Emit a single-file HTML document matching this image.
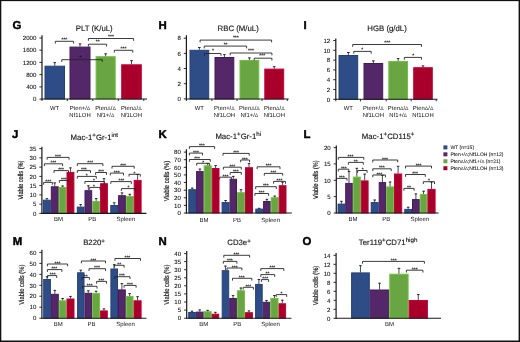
<!DOCTYPE html>
<html><head><meta charset="utf-8"><style>
html,body{margin:0;padding:0;background:#fff;}
body{width:520px;height:342px;overflow:hidden;}
svg{display:block;font-family:"Liberation Sans",sans-serif;will-change:transform;text-rendering:geometricPrecision;}
</style></head><body>
<svg width="520" height="342" viewBox="0 0 520 342">
<rect width="520" height="342" fill="#fff"/>
<text x="12.6" y="28.9" font-size="11.4" text-anchor="start" font-weight="bold" fill="#000" stroke="#000" stroke-width="0.45">G</text>
<text x="94.2" y="30.6" font-size="7.8" text-anchor="middle" font-weight="normal" fill="#111" stroke="#111" stroke-width="0.12">PLT (K/uL)</text>
<line x1="42" y1="35.3" x2="42" y2="99.5" stroke="#1a1a1a" stroke-width="1.2"/>
<line x1="39.4" y1="99.1" x2="42" y2="99.1" stroke="#1a1a1a" stroke-width="0.9"/>
<text x="36.4" y="101.3" font-size="6.1" text-anchor="end" font-weight="normal" fill="#111" stroke="#111" stroke-width="0.08">0</text>
<line x1="39.4" y1="86.9" x2="42" y2="86.9" stroke="#1a1a1a" stroke-width="0.9"/>
<text x="36.4" y="89.1" font-size="6.1" text-anchor="end" font-weight="normal" fill="#111" stroke="#111" stroke-width="0.08">400</text>
<line x1="39.4" y1="74.6" x2="42" y2="74.6" stroke="#1a1a1a" stroke-width="0.9"/>
<text x="36.4" y="76.8" font-size="6.1" text-anchor="end" font-weight="normal" fill="#111" stroke="#111" stroke-width="0.08">800</text>
<line x1="39.4" y1="62.4" x2="42" y2="62.4" stroke="#1a1a1a" stroke-width="0.9"/>
<text x="36.4" y="64.6" font-size="6.1" text-anchor="end" font-weight="normal" fill="#111" stroke="#111" stroke-width="0.08">1200</text>
<line x1="39.4" y1="50.2" x2="42" y2="50.2" stroke="#1a1a1a" stroke-width="0.9"/>
<text x="36.4" y="52.4" font-size="6.1" text-anchor="end" font-weight="normal" fill="#111" stroke="#111" stroke-width="0.08">1600</text>
<line x1="39.4" y1="38" x2="42" y2="38" stroke="#1a1a1a" stroke-width="0.9"/>
<text x="36.4" y="40.2" font-size="6.1" text-anchor="end" font-weight="normal" fill="#111" stroke="#111" stroke-width="0.08">2000</text>
<rect x="45" y="66.2" width="19.5" height="32.8" fill="#2e4d86" stroke="#24417a" stroke-width="1"/>
<line x1="54.75" y1="62.3" x2="54.75" y2="65.7" stroke="#1a1a1a" stroke-width="0.8"/>
<line x1="53.45" y1="62.6" x2="56.05" y2="62.6" stroke="#1a1a1a" stroke-width="0.9"/>
<rect x="70" y="47.1" width="20" height="51.9" fill="#542868" stroke="#46195c" stroke-width="1"/>
<line x1="80" y1="43.6" x2="80" y2="46.6" stroke="#1a1a1a" stroke-width="0.8"/>
<line x1="78.7" y1="43.9" x2="81.3" y2="43.9" stroke="#1a1a1a" stroke-width="0.9"/>
<rect x="96.1" y="56.7" width="19.1" height="42.3" fill="#6aa543" stroke="#6fc23f" stroke-width="1"/>
<line x1="105.65" y1="53.5" x2="105.65" y2="56.2" stroke="#1a1a1a" stroke-width="0.8"/>
<line x1="104.35" y1="53.8" x2="106.95" y2="53.8" stroke="#1a1a1a" stroke-width="0.9"/>
<rect x="121.7" y="64.8" width="19.6" height="34.2" fill="#a8002b" stroke="#c6003a" stroke-width="1"/>
<line x1="131.5" y1="60.3" x2="131.5" y2="64.3" stroke="#1a1a1a" stroke-width="0.8"/>
<line x1="130.2" y1="60.6" x2="132.8" y2="60.6" stroke="#1a1a1a" stroke-width="0.9"/>
<line x1="41.5" y1="99" x2="147" y2="99" stroke="#1a1a1a" stroke-width="1.1"/>
<line x1="42" y1="99" x2="42" y2="101" stroke="#1a1a1a" stroke-width="0.9"/>
<line x1="67.3" y1="99" x2="67.3" y2="101" stroke="#1a1a1a" stroke-width="0.9"/>
<line x1="92.8" y1="99" x2="92.8" y2="101" stroke="#1a1a1a" stroke-width="0.9"/>
<line x1="118.3" y1="99" x2="118.3" y2="101" stroke="#1a1a1a" stroke-width="0.9"/>
<line x1="143.8" y1="99" x2="143.8" y2="101" stroke="#1a1a1a" stroke-width="0.9"/>
<path d="M55.3 43.6V41.3H73.6V43.6" fill="none" stroke="#262626" stroke-width="0.9"/>
<text x="64.4" y="41.2" font-size="5" text-anchor="middle" font-weight="normal" fill="#111" stroke="#111" stroke-width="0.1">***</text>
<path d="M61.8 62V59.7H102.3V62" fill="none" stroke="#262626" stroke-width="0.9"/>
<text x="80.5" y="58.7" font-size="5" text-anchor="middle" font-weight="normal" fill="#111" stroke="#111" stroke-width="0.1">*</text>
<path d="M88.4 46.5V44.2H106.6V46.5" fill="none" stroke="#262626" stroke-width="0.9"/>
<text x="97.7" y="43.3" font-size="5" text-anchor="middle" font-weight="normal" fill="#111" stroke="#111" stroke-width="0.1">**</text>
<path d="M88.4 40.8V38.5H133.6V40.8" fill="none" stroke="#262626" stroke-width="0.9"/>
<text x="111" y="38" font-size="5" text-anchor="middle" font-weight="normal" fill="#111" stroke="#111" stroke-width="0.1">***</text>
<path d="M114.3 52.6V50.3H132.8V52.6" fill="none" stroke="#262626" stroke-width="0.9"/>
<text x="123.5" y="50" font-size="5" text-anchor="middle" font-weight="normal" fill="#111" stroke="#111" stroke-width="0.1">***</text>
<text x="54.6" y="109.9" font-size="5.9" text-anchor="middle" font-weight="normal" fill="#111">WT</text>
<text x="80" y="109.9" font-size="5.9" text-anchor="middle" font-weight="normal" fill="#111">Pten+/<tspan font-size="5.2" fill="#444">&#916;</tspan></text>
<text x="80" y="116.8" font-size="5.9" text-anchor="middle" font-weight="normal" fill="#111">Nf1LOH</text>
<text x="105.5" y="109.9" font-size="5.9" text-anchor="middle" font-weight="normal" fill="#111">Pten<tspan font-size="5.2" fill="#444">&#916;</tspan>/<tspan font-size="5.2" fill="#444">&#916;</tspan></text>
<text x="105.5" y="116.8" font-size="5.9" text-anchor="middle" font-weight="normal" fill="#111">Nf1+/<tspan font-size="5.2" fill="#444">&#916;</tspan></text>
<text x="131.3" y="109.9" font-size="5.9" text-anchor="middle" font-weight="normal" fill="#111">Pten<tspan font-size="5.2" fill="#444">&#916;</tspan>/<tspan font-size="5.2" fill="#444">&#916;</tspan></text>
<text x="131.3" y="116.8" font-size="5.9" text-anchor="middle" font-weight="normal" fill="#111">Nf1LOH</text>
<text x="158.4" y="28.9" font-size="11.4" text-anchor="start" font-weight="bold" fill="#000" stroke="#000" stroke-width="0.45">H</text>
<text x="238.2" y="30.6" font-size="7.8" text-anchor="middle" font-weight="normal" fill="#111" stroke="#111" stroke-width="0.12">RBC (M/uL)</text>
<line x1="186.4" y1="35.3" x2="186.4" y2="99.5" stroke="#1a1a1a" stroke-width="1.2"/>
<line x1="183.8" y1="98.9" x2="186.4" y2="98.9" stroke="#1a1a1a" stroke-width="0.9"/>
<text x="180.8" y="101.1" font-size="6.1" text-anchor="end" font-weight="normal" fill="#111" stroke="#111" stroke-width="0.08">0</text>
<line x1="183.8" y1="83.7" x2="186.4" y2="83.7" stroke="#1a1a1a" stroke-width="0.9"/>
<text x="180.8" y="85.9" font-size="6.1" text-anchor="end" font-weight="normal" fill="#111" stroke="#111" stroke-width="0.08">2</text>
<line x1="183.8" y1="68.5" x2="186.4" y2="68.5" stroke="#1a1a1a" stroke-width="0.9"/>
<text x="180.8" y="70.7" font-size="6.1" text-anchor="end" font-weight="normal" fill="#111" stroke="#111" stroke-width="0.08">4</text>
<line x1="183.8" y1="53.4" x2="186.4" y2="53.4" stroke="#1a1a1a" stroke-width="0.9"/>
<text x="180.8" y="55.6" font-size="6.1" text-anchor="end" font-weight="normal" fill="#111" stroke="#111" stroke-width="0.08">6</text>
<line x1="183.8" y1="38.2" x2="186.4" y2="38.2" stroke="#1a1a1a" stroke-width="0.9"/>
<text x="180.8" y="40.4" font-size="6.1" text-anchor="end" font-weight="normal" fill="#111" stroke="#111" stroke-width="0.08">8</text>
<rect x="190" y="50.3" width="18.7" height="48.7" fill="#2e4d86" stroke="#24417a" stroke-width="1"/>
<line x1="199.35" y1="47.2" x2="199.35" y2="49.8" stroke="#1a1a1a" stroke-width="0.8"/>
<line x1="198.05" y1="47.5" x2="200.65" y2="47.5" stroke="#1a1a1a" stroke-width="0.9"/>
<rect x="215" y="57.5" width="18.8" height="41.5" fill="#542868" stroke="#46195c" stroke-width="1"/>
<line x1="224.4" y1="54.3" x2="224.4" y2="57" stroke="#1a1a1a" stroke-width="0.8"/>
<line x1="223.1" y1="54.6" x2="225.7" y2="54.6" stroke="#1a1a1a" stroke-width="0.9"/>
<rect x="240" y="60.5" width="18.8" height="38.5" fill="#6aa543" stroke="#6fc23f" stroke-width="1"/>
<line x1="249.4" y1="57.6" x2="249.4" y2="60" stroke="#1a1a1a" stroke-width="0.8"/>
<line x1="248.1" y1="57.9" x2="250.7" y2="57.9" stroke="#1a1a1a" stroke-width="0.9"/>
<rect x="264.8" y="69.1" width="18.9" height="29.9" fill="#a8002b" stroke="#c6003a" stroke-width="1"/>
<line x1="274.25" y1="66.4" x2="274.25" y2="68.6" stroke="#1a1a1a" stroke-width="0.8"/>
<line x1="272.95" y1="66.7" x2="275.55" y2="66.7" stroke="#1a1a1a" stroke-width="0.9"/>
<line x1="185.9" y1="99" x2="288.7" y2="99" stroke="#1a1a1a" stroke-width="1.1"/>
<line x1="186.4" y1="99" x2="186.4" y2="101" stroke="#1a1a1a" stroke-width="0.9"/>
<line x1="211.9" y1="99" x2="211.9" y2="101" stroke="#1a1a1a" stroke-width="0.9"/>
<line x1="237" y1="99" x2="237" y2="101" stroke="#1a1a1a" stroke-width="0.9"/>
<line x1="262" y1="99" x2="262" y2="101" stroke="#1a1a1a" stroke-width="0.9"/>
<line x1="287.3" y1="99" x2="287.3" y2="101" stroke="#1a1a1a" stroke-width="0.9"/>
<path d="M200.1 42.4V40.1H271.6V42.4" fill="none" stroke="#262626" stroke-width="0.9"/>
<text x="235.8" y="39" font-size="5" text-anchor="middle" font-weight="normal" fill="#111" stroke="#111" stroke-width="0.1">***</text>
<path d="M204.2 48.4V46.1H246.6V48.4" fill="none" stroke="#262626" stroke-width="0.9"/>
<text x="225.6" y="45.6" font-size="5" text-anchor="middle" font-weight="normal" fill="#111" stroke="#111" stroke-width="0.1">**</text>
<path d="M204.5 55.8V53.5H221V55.8" fill="none" stroke="#262626" stroke-width="0.9"/>
<text x="213" y="52.4" font-size="5" text-anchor="middle" font-weight="normal" fill="#111" stroke="#111" stroke-width="0.1">*</text>
<path d="M230.2 55.3V53H271.9V55.3" fill="none" stroke="#262626" stroke-width="0.9"/>
<text x="251" y="52.3" font-size="5" text-anchor="middle" font-weight="normal" fill="#111" stroke="#111" stroke-width="0.1">***</text>
<path d="M254.2 60.5V58.2H271.9V60.5" fill="none" stroke="#262626" stroke-width="0.9"/>
<text x="262.2" y="57" font-size="5" text-anchor="middle" font-weight="normal" fill="#111" stroke="#111" stroke-width="0.1">***</text>
<text x="199.4" y="109.9" font-size="5.9" text-anchor="middle" font-weight="normal" fill="#111">WT</text>
<text x="224.4" y="109.9" font-size="5.9" text-anchor="middle" font-weight="normal" fill="#111">Pten+/<tspan font-size="5.2" fill="#444">&#916;</tspan></text>
<text x="224.4" y="116.8" font-size="5.9" text-anchor="middle" font-weight="normal" fill="#111">Nf1LOH</text>
<text x="249.4" y="109.9" font-size="5.9" text-anchor="middle" font-weight="normal" fill="#111">Pten<tspan font-size="5.2" fill="#444">&#916;</tspan>/<tspan font-size="5.2" fill="#444">&#916;</tspan></text>
<text x="249.4" y="116.8" font-size="5.9" text-anchor="middle" font-weight="normal" fill="#111">Nf1+/<tspan font-size="5.2" fill="#444">&#916;</tspan></text>
<text x="274.3" y="109.9" font-size="5.9" text-anchor="middle" font-weight="normal" fill="#111">Pten<tspan font-size="5.2" fill="#444">&#916;</tspan>/<tspan font-size="5.2" fill="#444">&#916;</tspan></text>
<text x="274.3" y="116.8" font-size="5.9" text-anchor="middle" font-weight="normal" fill="#111">Nf1LOH</text>
<text x="303.6" y="28.9" font-size="11.4" text-anchor="start" font-weight="bold" fill="#000" stroke="#000" stroke-width="0.45">I</text>
<text x="387.05" y="30.6" font-size="7.8" text-anchor="middle" font-weight="normal" fill="#111" stroke="#111" stroke-width="0.12">HGB (g/dL)</text>
<line x1="335.8" y1="38.5" x2="335.8" y2="99.8" stroke="#1a1a1a" stroke-width="1.2"/>
<line x1="333.2" y1="99.3" x2="335.8" y2="99.3" stroke="#1a1a1a" stroke-width="0.9"/>
<text x="330.2" y="101.5" font-size="6.1" text-anchor="end" font-weight="normal" fill="#111" stroke="#111" stroke-width="0.08">0</text>
<line x1="333.2" y1="89.5" x2="335.8" y2="89.5" stroke="#1a1a1a" stroke-width="0.9"/>
<text x="330.2" y="91.7" font-size="6.1" text-anchor="end" font-weight="normal" fill="#111" stroke="#111" stroke-width="0.08">2</text>
<line x1="333.2" y1="79.7" x2="335.8" y2="79.7" stroke="#1a1a1a" stroke-width="0.9"/>
<text x="330.2" y="81.9" font-size="6.1" text-anchor="end" font-weight="normal" fill="#111" stroke="#111" stroke-width="0.08">4</text>
<line x1="333.2" y1="69.9" x2="335.8" y2="69.9" stroke="#1a1a1a" stroke-width="0.9"/>
<text x="330.2" y="72.1" font-size="6.1" text-anchor="end" font-weight="normal" fill="#111" stroke="#111" stroke-width="0.08">6</text>
<line x1="333.2" y1="60.1" x2="335.8" y2="60.1" stroke="#1a1a1a" stroke-width="0.9"/>
<text x="330.2" y="62.3" font-size="6.1" text-anchor="end" font-weight="normal" fill="#111" stroke="#111" stroke-width="0.08">8</text>
<line x1="333.2" y1="50.3" x2="335.8" y2="50.3" stroke="#1a1a1a" stroke-width="0.9"/>
<text x="330.2" y="52.5" font-size="6.1" text-anchor="end" font-weight="normal" fill="#111" stroke="#111" stroke-width="0.08">10</text>
<line x1="333.2" y1="40.5" x2="335.8" y2="40.5" stroke="#1a1a1a" stroke-width="0.9"/>
<text x="330.2" y="42.7" font-size="6.1" text-anchor="end" font-weight="normal" fill="#111" stroke="#111" stroke-width="0.08">12</text>
<rect x="339" y="55.5" width="18.7" height="43.8" fill="#2e4d86" stroke="#24417a" stroke-width="1"/>
<line x1="348.35" y1="52.2" x2="348.35" y2="55" stroke="#1a1a1a" stroke-width="0.8"/>
<line x1="347.05" y1="52.5" x2="349.65" y2="52.5" stroke="#1a1a1a" stroke-width="0.9"/>
<rect x="364" y="63.5" width="18.7" height="35.8" fill="#542868" stroke="#46195c" stroke-width="1"/>
<line x1="373.35" y1="60.6" x2="373.35" y2="63" stroke="#1a1a1a" stroke-width="0.8"/>
<line x1="372.05" y1="60.9" x2="374.65" y2="60.9" stroke="#1a1a1a" stroke-width="0.9"/>
<rect x="388.8" y="61.5" width="18.7" height="37.8" fill="#6aa543" stroke="#6fc23f" stroke-width="1"/>
<line x1="398.15" y1="58.3" x2="398.15" y2="61" stroke="#1a1a1a" stroke-width="0.8"/>
<line x1="396.85" y1="58.6" x2="399.45" y2="58.6" stroke="#1a1a1a" stroke-width="0.9"/>
<rect x="413.7" y="67.7" width="18.6" height="31.6" fill="#a8002b" stroke="#c6003a" stroke-width="1"/>
<line x1="423" y1="65.6" x2="423" y2="67.2" stroke="#1a1a1a" stroke-width="0.8"/>
<line x1="421.7" y1="65.9" x2="424.3" y2="65.9" stroke="#1a1a1a" stroke-width="0.9"/>
<line x1="335.3" y1="99.3" x2="437.5" y2="99.3" stroke="#1a1a1a" stroke-width="1.1"/>
<line x1="335.8" y1="99.3" x2="335.8" y2="101.3" stroke="#1a1a1a" stroke-width="0.9"/>
<line x1="360.5" y1="99.3" x2="360.5" y2="101.3" stroke="#1a1a1a" stroke-width="0.9"/>
<line x1="386.2" y1="99.3" x2="386.2" y2="101.3" stroke="#1a1a1a" stroke-width="0.9"/>
<line x1="411.2" y1="99.3" x2="411.2" y2="101.3" stroke="#1a1a1a" stroke-width="0.9"/>
<line x1="436.2" y1="99.3" x2="436.2" y2="101.3" stroke="#1a1a1a" stroke-width="0.9"/>
<path d="M352.7 46.8V44.5H421.5V46.8" fill="none" stroke="#262626" stroke-width="0.9"/>
<text x="387.2" y="44" font-size="5" text-anchor="middle" font-weight="normal" fill="#111" stroke="#111" stroke-width="0.1">***</text>
<path d="M353.8 53.7V51.4H371.2V53.7" fill="none" stroke="#262626" stroke-width="0.9"/>
<text x="362.3" y="51" font-size="5" text-anchor="middle" font-weight="normal" fill="#111" stroke="#111" stroke-width="0.1">*</text>
<path d="M404.3 59.7V57.4H421.5V59.7" fill="none" stroke="#262626" stroke-width="0.9"/>
<text x="413.2" y="56.8" font-size="5" text-anchor="middle" font-weight="normal" fill="#111" stroke="#111" stroke-width="0.1">*</text>
<text x="348.4" y="109.9" font-size="5.9" text-anchor="middle" font-weight="normal" fill="#111">WT</text>
<text x="373.3" y="109.9" font-size="5.9" text-anchor="middle" font-weight="normal" fill="#111">Pten+/<tspan font-size="5.2" fill="#444">&#916;</tspan></text>
<text x="373.3" y="116.8" font-size="5.9" text-anchor="middle" font-weight="normal" fill="#111">Nf1LOH</text>
<text x="398.2" y="109.9" font-size="5.9" text-anchor="middle" font-weight="normal" fill="#111">Pten<tspan font-size="5.2" fill="#444">&#916;</tspan>/<tspan font-size="5.2" fill="#444">&#916;</tspan></text>
<text x="398.2" y="116.8" font-size="5.9" text-anchor="middle" font-weight="normal" fill="#111">Nf1+/<tspan font-size="5.2" fill="#444">&#916;</tspan></text>
<text x="423" y="109.9" font-size="5.9" text-anchor="middle" font-weight="normal" fill="#111">Pten<tspan font-size="5.2" fill="#444">&#916;</tspan>/<tspan font-size="5.2" fill="#444">&#916;</tspan></text>
<text x="423" y="116.8" font-size="5.9" text-anchor="middle" font-weight="normal" fill="#111">Nf1LOH</text>
<text x="12" y="137.9" font-size="11.4" text-anchor="start" font-weight="bold" fill="#000" stroke="#000" stroke-width="0.45">J</text>
<text x="94.35" y="139.6" font-size="7.8" text-anchor="middle" font-weight="normal" fill="#111" stroke="#111" stroke-width="0.12">Mac-1<tspan font-size="6.2" dy="-2.9">+</tspan><tspan dy="2.9">Gr-1</tspan><tspan font-size="6.2" dy="-2.9">int</tspan></text>
<text x="0" y="0" font-size="7.2" text-anchor="middle" fill="#111" stroke="#111" stroke-width="0.15" transform="translate(23.45 180.05) rotate(-90) scale(0.79 1)">Viable cells (%)</text>
<line x1="41.9" y1="146.8" x2="41.9" y2="213.9" stroke="#1a1a1a" stroke-width="1.2"/>
<line x1="39.3" y1="213.4" x2="41.9" y2="213.4" stroke="#1a1a1a" stroke-width="0.9"/>
<text x="36.3" y="215.6" font-size="6.1" text-anchor="end" font-weight="normal" fill="#111" stroke="#111" stroke-width="0.08">0</text>
<line x1="39.3" y1="204.1" x2="41.9" y2="204.1" stroke="#1a1a1a" stroke-width="0.9"/>
<text x="36.3" y="206.3" font-size="6.1" text-anchor="end" font-weight="normal" fill="#111" stroke="#111" stroke-width="0.08">5</text>
<line x1="39.3" y1="194.9" x2="41.9" y2="194.9" stroke="#1a1a1a" stroke-width="0.9"/>
<text x="36.3" y="197.1" font-size="6.1" text-anchor="end" font-weight="normal" fill="#111" stroke="#111" stroke-width="0.08">10</text>
<line x1="39.3" y1="185.6" x2="41.9" y2="185.6" stroke="#1a1a1a" stroke-width="0.9"/>
<text x="36.3" y="187.8" font-size="6.1" text-anchor="end" font-weight="normal" fill="#111" stroke="#111" stroke-width="0.08">15</text>
<line x1="39.3" y1="176.4" x2="41.9" y2="176.4" stroke="#1a1a1a" stroke-width="0.9"/>
<text x="36.3" y="178.6" font-size="6.1" text-anchor="end" font-weight="normal" fill="#111" stroke="#111" stroke-width="0.08">20</text>
<line x1="39.3" y1="167.1" x2="41.9" y2="167.1" stroke="#1a1a1a" stroke-width="0.9"/>
<text x="36.3" y="169.3" font-size="6.1" text-anchor="end" font-weight="normal" fill="#111" stroke="#111" stroke-width="0.08">25</text>
<line x1="39.3" y1="157.9" x2="41.9" y2="157.9" stroke="#1a1a1a" stroke-width="0.9"/>
<text x="36.3" y="160.1" font-size="6.1" text-anchor="end" font-weight="normal" fill="#111" stroke="#111" stroke-width="0.08">30</text>
<line x1="39.3" y1="148.6" x2="41.9" y2="148.6" stroke="#1a1a1a" stroke-width="0.9"/>
<text x="36.3" y="150.8" font-size="6.1" text-anchor="end" font-weight="normal" fill="#111" stroke="#111" stroke-width="0.08">35</text>
<rect x="43.4" y="200.2" width="6.9" height="13.2" fill="#2e4d86" stroke="#24417a" stroke-width="1"/>
<line x1="46.85" y1="198.4" x2="46.85" y2="199.7" stroke="#1a1a1a" stroke-width="0.8"/>
<line x1="45.55" y1="198.7" x2="48.15" y2="198.7" stroke="#1a1a1a" stroke-width="0.9"/>
<rect x="51.3" y="186.8" width="6.9" height="26.6" fill="#542868" stroke="#46195c" stroke-width="1"/>
<line x1="54.75" y1="182.6" x2="54.75" y2="186.3" stroke="#1a1a1a" stroke-width="0.8"/>
<line x1="53.45" y1="182.9" x2="56.05" y2="182.9" stroke="#1a1a1a" stroke-width="0.9"/>
<rect x="59.2" y="187.5" width="6.8" height="25.9" fill="#6aa543" stroke="#6fc23f" stroke-width="1"/>
<line x1="62.6" y1="185.7" x2="62.6" y2="187" stroke="#1a1a1a" stroke-width="0.8"/>
<line x1="61.3" y1="186" x2="63.9" y2="186" stroke="#1a1a1a" stroke-width="0.9"/>
<rect x="67" y="172.4" width="6.9" height="41" fill="#a8002b" stroke="#c6003a" stroke-width="1"/>
<line x1="70.45" y1="167.6" x2="70.45" y2="171.9" stroke="#1a1a1a" stroke-width="0.8"/>
<line x1="69.15" y1="167.9" x2="71.75" y2="167.9" stroke="#1a1a1a" stroke-width="0.9"/>
<rect x="77.3" y="207.1" width="6.7" height="6.3" fill="#2e4d86" stroke="#24417a" stroke-width="1"/>
<line x1="80.65" y1="204.3" x2="80.65" y2="206.6" stroke="#1a1a1a" stroke-width="0.8"/>
<line x1="79.35" y1="204.6" x2="81.95" y2="204.6" stroke="#1a1a1a" stroke-width="0.9"/>
<rect x="85" y="190.7" width="6.7" height="22.7" fill="#542868" stroke="#46195c" stroke-width="1"/>
<line x1="88.35" y1="185.5" x2="88.35" y2="190.2" stroke="#1a1a1a" stroke-width="0.8"/>
<line x1="87.05" y1="185.8" x2="89.65" y2="185.8" stroke="#1a1a1a" stroke-width="0.9"/>
<rect x="92.7" y="201.5" width="6.9" height="11.9" fill="#6aa543" stroke="#6fc23f" stroke-width="1"/>
<line x1="96.15" y1="198.3" x2="96.15" y2="201" stroke="#1a1a1a" stroke-width="0.8"/>
<line x1="94.85" y1="198.6" x2="97.45" y2="198.6" stroke="#1a1a1a" stroke-width="0.9"/>
<rect x="100.6" y="183.7" width="6.8" height="29.7" fill="#a8002b" stroke="#c6003a" stroke-width="1"/>
<line x1="104" y1="178.4" x2="104" y2="183.2" stroke="#1a1a1a" stroke-width="0.8"/>
<line x1="102.7" y1="178.7" x2="105.3" y2="178.7" stroke="#1a1a1a" stroke-width="0.9"/>
<rect x="110.8" y="205.5" width="6.8" height="7.9" fill="#2e4d86" stroke="#24417a" stroke-width="1"/>
<line x1="114.2" y1="202.5" x2="114.2" y2="205" stroke="#1a1a1a" stroke-width="0.8"/>
<line x1="112.9" y1="202.8" x2="115.5" y2="202.8" stroke="#1a1a1a" stroke-width="0.9"/>
<rect x="118.6" y="195.7" width="6.8" height="17.7" fill="#542868" stroke="#46195c" stroke-width="1"/>
<line x1="122" y1="192.6" x2="122" y2="195.2" stroke="#1a1a1a" stroke-width="0.8"/>
<line x1="120.7" y1="192.9" x2="123.3" y2="192.9" stroke="#1a1a1a" stroke-width="0.9"/>
<rect x="126.4" y="196.5" width="6.8" height="16.9" fill="#6aa543" stroke="#6fc23f" stroke-width="1"/>
<line x1="129.8" y1="194" x2="129.8" y2="196" stroke="#1a1a1a" stroke-width="0.8"/>
<line x1="128.5" y1="194.3" x2="131.1" y2="194.3" stroke="#1a1a1a" stroke-width="0.9"/>
<rect x="134.2" y="180.4" width="6.9" height="33" fill="#a8002b" stroke="#c6003a" stroke-width="1"/>
<line x1="137.65" y1="174.1" x2="137.65" y2="179.9" stroke="#1a1a1a" stroke-width="0.8"/>
<line x1="136.35" y1="174.4" x2="138.95" y2="174.4" stroke="#1a1a1a" stroke-width="0.9"/>
<line x1="41.4" y1="213.4" x2="146.4" y2="213.4" stroke="#1a1a1a" stroke-width="1.1"/>
<path d="M47.1 159.7V157.4H69V159.7" fill="none" stroke="#262626" stroke-width="0.9"/>
<text x="58" y="157.95" font-size="5" text-anchor="middle" font-weight="normal" fill="#111" stroke="#111" stroke-width="0.1">***</text>
<path d="M44.4 166.1V163.8H62.6V166.1" fill="none" stroke="#262626" stroke-width="0.9"/>
<text x="53.4" y="164.35" font-size="5" text-anchor="middle" font-weight="normal" fill="#111" stroke="#111" stroke-width="0.1">***</text>
<path d="M54 172.9V170.6H68.5V172.9" fill="none" stroke="#262626" stroke-width="0.9"/>
<text x="61.1" y="171.15" font-size="5" text-anchor="middle" font-weight="normal" fill="#111" stroke="#111" stroke-width="0.1">***</text>
<path d="M59.4 182.8V180.5H68.3V182.8" fill="none" stroke="#262626" stroke-width="0.9"/>
<text x="63.9" y="181.05" font-size="5" text-anchor="middle" font-weight="normal" fill="#111" stroke="#111" stroke-width="0.1">***</text>
<path d="M43.6 184.7V182.4H52.4V184.7" fill="none" stroke="#262626" stroke-width="0.9"/>
<text x="48.2" y="182.95" font-size="5" text-anchor="middle" font-weight="normal" fill="#111" stroke="#111" stroke-width="0.1">***</text>
<path d="M77.3 166V163.7H102.9V166" fill="none" stroke="#262626" stroke-width="0.9"/>
<text x="90.2" y="164.25" font-size="5" text-anchor="middle" font-weight="normal" fill="#111" stroke="#111" stroke-width="0.1">***</text>
<path d="M77.3 172.9V170.6H90.5V172.9" fill="none" stroke="#262626" stroke-width="0.9"/>
<text x="83.9" y="171.15" font-size="5" text-anchor="middle" font-weight="normal" fill="#111" stroke="#111" stroke-width="0.1">***</text>
<path d="M95.6 174.8V172.5H106.5V174.8" fill="none" stroke="#262626" stroke-width="0.9"/>
<text x="101.1" y="173.05" font-size="5" text-anchor="middle" font-weight="normal" fill="#111" stroke="#111" stroke-width="0.1">***</text>
<path d="M77.3 178.7V176.4H96.3V178.7" fill="none" stroke="#262626" stroke-width="0.9"/>
<text x="86.8" y="176.95" font-size="5" text-anchor="middle" font-weight="normal" fill="#111" stroke="#111" stroke-width="0.1">*</text>
<path d="M84.9 183.8V181.5H104.4V183.8" fill="none" stroke="#262626" stroke-width="0.9"/>
<text x="94.1" y="182.05" font-size="5" text-anchor="middle" font-weight="normal" fill="#111" stroke="#111" stroke-width="0.1">*</text>
<path d="M89.7 189.7V187.4H100V189.7" fill="none" stroke="#262626" stroke-width="0.9"/>
<text x="94.1" y="187.95" font-size="5" text-anchor="middle" font-weight="normal" fill="#111" stroke="#111" stroke-width="0.1">*</text>
<path d="M112 168.6V166.3H134.2V168.6" fill="none" stroke="#262626" stroke-width="0.9"/>
<text x="123.1" y="166.85" font-size="5" text-anchor="middle" font-weight="normal" fill="#111" stroke="#111" stroke-width="0.1">***</text>
<path d="M110.3 175.4V173.1H123.5V175.4" fill="none" stroke="#262626" stroke-width="0.9"/>
<text x="116.7" y="173.65" font-size="5" text-anchor="middle" font-weight="normal" fill="#111" stroke="#111" stroke-width="0.1">***</text>
<path d="M129 176.6V174.3H140.3V176.6" fill="none" stroke="#262626" stroke-width="0.9"/>
<text x="134.4" y="174.85" font-size="5" text-anchor="middle" font-weight="normal" fill="#111" stroke="#111" stroke-width="0.1">*</text>
<path d="M110.8 183.9V181.6H131.3V183.9" fill="none" stroke="#262626" stroke-width="0.9"/>
<text x="121.4" y="182.15" font-size="5" text-anchor="middle" font-weight="normal" fill="#111" stroke="#111" stroke-width="0.1">***</text>
<path d="M121.4 190.9V188.6H135.4V190.9" fill="none" stroke="#262626" stroke-width="0.9"/>
<text x="128.4" y="189.15" font-size="5" text-anchor="middle" font-weight="normal" fill="#111" stroke="#111" stroke-width="0.1">*</text>
<text x="58.6" y="221.3" font-size="6" text-anchor="middle" font-weight="normal" fill="#111">BM</text>
<text x="92.3" y="221.3" font-size="6" text-anchor="middle" font-weight="normal" fill="#111">PB</text>
<text x="125.8" y="221.3" font-size="6" text-anchor="middle" font-weight="normal" fill="#111">Spleen</text>
<text x="158.6" y="138" font-size="11.4" text-anchor="start" font-weight="bold" fill="#000" stroke="#000" stroke-width="0.45">K</text>
<text x="238.25" y="139.3" font-size="7.8" text-anchor="middle" font-weight="normal" fill="#111" stroke="#111" stroke-width="0.12">Mac-1<tspan font-size="6.2" dy="-2.9">+</tspan><tspan dy="2.9">Gr-1</tspan><tspan font-size="6.2" dy="-2.9">hi</tspan></text>
<text x="0" y="0" font-size="7.2" text-anchor="middle" fill="#111" stroke="#111" stroke-width="0.15" transform="translate(169.25 181) rotate(-90) scale(0.82 1)">Viable cells (%)</text>
<line x1="186.4" y1="149.3" x2="186.4" y2="213.5" stroke="#1a1a1a" stroke-width="1.2"/>
<line x1="183.8" y1="213" x2="186.4" y2="213" stroke="#1a1a1a" stroke-width="0.9"/>
<text x="180.8" y="215.2" font-size="6.1" text-anchor="end" font-weight="normal" fill="#111" stroke="#111" stroke-width="0.08">0</text>
<line x1="183.8" y1="205.4" x2="186.4" y2="205.4" stroke="#1a1a1a" stroke-width="0.9"/>
<text x="180.8" y="207.6" font-size="6.1" text-anchor="end" font-weight="normal" fill="#111" stroke="#111" stroke-width="0.08">10</text>
<line x1="183.8" y1="197.8" x2="186.4" y2="197.8" stroke="#1a1a1a" stroke-width="0.9"/>
<text x="180.8" y="200" font-size="6.1" text-anchor="end" font-weight="normal" fill="#111" stroke="#111" stroke-width="0.08">20</text>
<line x1="183.8" y1="190.2" x2="186.4" y2="190.2" stroke="#1a1a1a" stroke-width="0.9"/>
<text x="180.8" y="192.4" font-size="6.1" text-anchor="end" font-weight="normal" fill="#111" stroke="#111" stroke-width="0.08">30</text>
<line x1="183.8" y1="182.5" x2="186.4" y2="182.5" stroke="#1a1a1a" stroke-width="0.9"/>
<text x="180.8" y="184.7" font-size="6.1" text-anchor="end" font-weight="normal" fill="#111" stroke="#111" stroke-width="0.08">40</text>
<line x1="183.8" y1="174.9" x2="186.4" y2="174.9" stroke="#1a1a1a" stroke-width="0.9"/>
<text x="180.8" y="177.1" font-size="6.1" text-anchor="end" font-weight="normal" fill="#111" stroke="#111" stroke-width="0.08">50</text>
<line x1="183.8" y1="167.3" x2="186.4" y2="167.3" stroke="#1a1a1a" stroke-width="0.9"/>
<text x="180.8" y="169.5" font-size="6.1" text-anchor="end" font-weight="normal" fill="#111" stroke="#111" stroke-width="0.08">60</text>
<line x1="183.8" y1="159.7" x2="186.4" y2="159.7" stroke="#1a1a1a" stroke-width="0.9"/>
<text x="180.8" y="161.9" font-size="6.1" text-anchor="end" font-weight="normal" fill="#111" stroke="#111" stroke-width="0.08">70</text>
<line x1="183.8" y1="152.1" x2="186.4" y2="152.1" stroke="#1a1a1a" stroke-width="0.9"/>
<text x="180.8" y="154.3" font-size="6.1" text-anchor="end" font-weight="normal" fill="#111" stroke="#111" stroke-width="0.08">80</text>
<rect x="188.8" y="189.7" width="6.8" height="23.3" fill="#2e4d86" stroke="#24417a" stroke-width="1"/>
<line x1="192.2" y1="187.8" x2="192.2" y2="189.2" stroke="#1a1a1a" stroke-width="0.8"/>
<line x1="190.9" y1="188.1" x2="193.5" y2="188.1" stroke="#1a1a1a" stroke-width="0.9"/>
<rect x="196.6" y="171.6" width="6.6" height="41.4" fill="#542868" stroke="#46195c" stroke-width="1"/>
<line x1="199.9" y1="168.8" x2="199.9" y2="171.1" stroke="#1a1a1a" stroke-width="0.8"/>
<line x1="198.6" y1="169.1" x2="201.2" y2="169.1" stroke="#1a1a1a" stroke-width="0.9"/>
<rect x="204.2" y="165.8" width="7" height="47.2" fill="#6aa543" stroke="#6fc23f" stroke-width="1"/>
<line x1="207.7" y1="163.3" x2="207.7" y2="165.3" stroke="#1a1a1a" stroke-width="0.8"/>
<line x1="206.4" y1="163.6" x2="209" y2="163.6" stroke="#1a1a1a" stroke-width="0.9"/>
<rect x="212.2" y="168.5" width="6.8" height="44.5" fill="#a8002b" stroke="#c6003a" stroke-width="1"/>
<line x1="215.6" y1="165.3" x2="215.6" y2="168" stroke="#1a1a1a" stroke-width="0.8"/>
<line x1="214.3" y1="165.6" x2="216.9" y2="165.6" stroke="#1a1a1a" stroke-width="0.9"/>
<rect x="222.1" y="202.6" width="7" height="10.4" fill="#2e4d86" stroke="#24417a" stroke-width="1"/>
<line x1="225.6" y1="200.2" x2="225.6" y2="202.1" stroke="#1a1a1a" stroke-width="0.8"/>
<line x1="224.3" y1="200.5" x2="226.9" y2="200.5" stroke="#1a1a1a" stroke-width="0.9"/>
<rect x="230.1" y="179.3" width="6.4" height="33.7" fill="#542868" stroke="#46195c" stroke-width="1"/>
<line x1="233.3" y1="176.1" x2="233.3" y2="178.8" stroke="#1a1a1a" stroke-width="0.8"/>
<line x1="232" y1="176.4" x2="234.6" y2="176.4" stroke="#1a1a1a" stroke-width="0.9"/>
<rect x="237.5" y="192.7" width="7" height="20.3" fill="#6aa543" stroke="#6fc23f" stroke-width="1"/>
<line x1="241" y1="189.4" x2="241" y2="192.2" stroke="#1a1a1a" stroke-width="0.8"/>
<line x1="239.7" y1="189.7" x2="242.3" y2="189.7" stroke="#1a1a1a" stroke-width="0.9"/>
<rect x="245.5" y="167.7" width="7" height="45.3" fill="#a8002b" stroke="#c6003a" stroke-width="1"/>
<line x1="249" y1="163.3" x2="249" y2="167.2" stroke="#1a1a1a" stroke-width="0.8"/>
<line x1="247.7" y1="163.6" x2="250.3" y2="163.6" stroke="#1a1a1a" stroke-width="0.9"/>
<rect x="255.8" y="209.1" width="6.8" height="3.9" fill="#2e4d86" stroke="#24417a" stroke-width="1"/>
<line x1="259.2" y1="208" x2="259.2" y2="208.6" stroke="#1a1a1a" stroke-width="0.8"/>
<line x1="257.9" y1="208.3" x2="260.5" y2="208.3" stroke="#1a1a1a" stroke-width="0.9"/>
<rect x="263.6" y="201.5" width="6.6" height="11.5" fill="#542868" stroke="#46195c" stroke-width="1"/>
<line x1="266.9" y1="199" x2="266.9" y2="201" stroke="#1a1a1a" stroke-width="0.8"/>
<line x1="265.6" y1="199.3" x2="268.2" y2="199.3" stroke="#1a1a1a" stroke-width="0.9"/>
<rect x="271.2" y="197.7" width="7" height="15.3" fill="#6aa543" stroke="#6fc23f" stroke-width="1"/>
<line x1="274.7" y1="195.8" x2="274.7" y2="197.2" stroke="#1a1a1a" stroke-width="0.8"/>
<line x1="273.4" y1="196.1" x2="276" y2="196.1" stroke="#1a1a1a" stroke-width="0.9"/>
<rect x="279.2" y="185.7" width="6.8" height="27.3" fill="#a8002b" stroke="#c6003a" stroke-width="1"/>
<line x1="282.6" y1="181.8" x2="282.6" y2="185.2" stroke="#1a1a1a" stroke-width="0.8"/>
<line x1="281.3" y1="182.1" x2="283.9" y2="182.1" stroke="#1a1a1a" stroke-width="0.9"/>
<line x1="185.9" y1="213" x2="291.8" y2="213" stroke="#1a1a1a" stroke-width="1.1"/>
<path d="M189.4 148.9V146.6H214.6V148.9" fill="none" stroke="#262626" stroke-width="0.9"/>
<text x="201.8" y="147.15" font-size="5" text-anchor="middle" font-weight="normal" fill="#111" stroke="#111" stroke-width="0.1">***</text>
<path d="M189.4 155.4V153.1H202.5V155.4" fill="none" stroke="#262626" stroke-width="0.9"/>
<text x="196" y="153.65" font-size="5" text-anchor="middle" font-weight="normal" fill="#111" stroke="#111" stroke-width="0.1">***</text>
<path d="M189.4 161.8V159.5H210.3V161.8" fill="none" stroke="#262626" stroke-width="0.9"/>
<text x="197.1" y="160.05" font-size="5" text-anchor="middle" font-weight="normal" fill="#111" stroke="#111" stroke-width="0.1">***</text>
<path d="M196.7 165.6V163.3H209.6V165.6" fill="none" stroke="#262626" stroke-width="0.9"/>
<text x="203.2" y="163.85" font-size="5" text-anchor="middle" font-weight="normal" fill="#111" stroke="#111" stroke-width="0.1">*</text>
<path d="M223 155.7V153.4H249.2V155.7" fill="none" stroke="#262626" stroke-width="0.9"/>
<text x="236.1" y="153.95" font-size="5" text-anchor="middle" font-weight="normal" fill="#111" stroke="#111" stroke-width="0.1">***</text>
<path d="M240.7 162.3V160H249.5V162.3" fill="none" stroke="#262626" stroke-width="0.9"/>
<text x="244.8" y="160.55" font-size="5" text-anchor="middle" font-weight="normal" fill="#111" stroke="#111" stroke-width="0.1">***</text>
<path d="M223.4 169.5V167.2H241.3V169.5" fill="none" stroke="#262626" stroke-width="0.9"/>
<text x="232.3" y="167.75" font-size="5" text-anchor="middle" font-weight="normal" fill="#111" stroke="#111" stroke-width="0.1">***</text>
<path d="M230.2 174.8V172.5H241.3V174.8" fill="none" stroke="#262626" stroke-width="0.9"/>
<text x="235.8" y="173.05" font-size="5" text-anchor="middle" font-weight="normal" fill="#111" stroke="#111" stroke-width="0.1">***</text>
<path d="M219.7 179.5V177.2H231.4V179.5" fill="none" stroke="#262626" stroke-width="0.9"/>
<text x="225.5" y="177.75" font-size="5" text-anchor="middle" font-weight="normal" fill="#111" stroke="#111" stroke-width="0.1">***</text>
<path d="M257.2 169.1V166.8H280V169.1" fill="none" stroke="#262626" stroke-width="0.9"/>
<text x="268.6" y="167.35" font-size="5" text-anchor="middle" font-weight="normal" fill="#111" stroke="#111" stroke-width="0.1">***</text>
<path d="M264.3 175.7V173.4H282.7V175.7" fill="none" stroke="#262626" stroke-width="0.9"/>
<text x="273.4" y="173.95" font-size="5" text-anchor="middle" font-weight="normal" fill="#111" stroke="#111" stroke-width="0.1">***</text>
<path d="M273.6 183.7V181.4H285.5V183.7" fill="none" stroke="#262626" stroke-width="0.9"/>
<text x="279.5" y="181.95" font-size="5" text-anchor="middle" font-weight="normal" fill="#111" stroke="#111" stroke-width="0.1">***</text>
<path d="M255.7 189V186.7H276.3V189" fill="none" stroke="#262626" stroke-width="0.9"/>
<text x="265.8" y="187.25" font-size="5" text-anchor="middle" font-weight="normal" fill="#111" stroke="#111" stroke-width="0.1">***</text>
<path d="M254.9 195.8V193.5H268.6V195.8" fill="none" stroke="#262626" stroke-width="0.9"/>
<text x="261.6" y="194.05" font-size="5" text-anchor="middle" font-weight="normal" fill="#111" stroke="#111" stroke-width="0.1">***</text>
<text x="203.9" y="221.6" font-size="6" text-anchor="middle" font-weight="normal" fill="#111">BM</text>
<text x="237.1" y="221.6" font-size="6" text-anchor="middle" font-weight="normal" fill="#111">PB</text>
<text x="270.7" y="221.6" font-size="6" text-anchor="middle" font-weight="normal" fill="#111">Spleen</text>
<text x="303.4" y="138" font-size="11.4" text-anchor="start" font-weight="bold" fill="#000" stroke="#000" stroke-width="0.45">L</text>
<text x="388.15" y="139.3" font-size="7.8" text-anchor="middle" font-weight="normal" fill="#111" stroke="#111" stroke-width="0.12">Mac-1<tspan font-size="6.2" dy="-2.9">+</tspan><tspan dy="2.9">CD115</tspan><tspan font-size="6.2" dy="-2.9">+</tspan></text>
<text x="0" y="0" font-size="7.2" text-anchor="middle" fill="#111" stroke="#111" stroke-width="0.15" transform="translate(317.85 179.65) rotate(-90) scale(0.78 1)">Viable cells (%)</text>
<line x1="336.3" y1="145.6" x2="336.3" y2="213.5" stroke="#1a1a1a" stroke-width="1.2"/>
<line x1="333.7" y1="213" x2="336.3" y2="213" stroke="#1a1a1a" stroke-width="0.9"/>
<text x="330.7" y="215.2" font-size="6.1" text-anchor="end" font-weight="normal" fill="#111" stroke="#111" stroke-width="0.08">0</text>
<line x1="333.7" y1="196.6" x2="336.3" y2="196.6" stroke="#1a1a1a" stroke-width="0.9"/>
<text x="330.7" y="198.8" font-size="6.1" text-anchor="end" font-weight="normal" fill="#111" stroke="#111" stroke-width="0.08">5</text>
<line x1="333.7" y1="180.3" x2="336.3" y2="180.3" stroke="#1a1a1a" stroke-width="0.9"/>
<text x="330.7" y="182.5" font-size="6.1" text-anchor="end" font-weight="normal" fill="#111" stroke="#111" stroke-width="0.08">10</text>
<line x1="333.7" y1="163.9" x2="336.3" y2="163.9" stroke="#1a1a1a" stroke-width="0.9"/>
<text x="330.7" y="166.1" font-size="6.1" text-anchor="end" font-weight="normal" fill="#111" stroke="#111" stroke-width="0.08">15</text>
<line x1="333.7" y1="147.6" x2="336.3" y2="147.6" stroke="#1a1a1a" stroke-width="0.9"/>
<text x="330.7" y="149.8" font-size="6.1" text-anchor="end" font-weight="normal" fill="#111" stroke="#111" stroke-width="0.08">20</text>
<rect x="338.1" y="204.1" width="6.6" height="8.9" fill="#2e4d86" stroke="#24417a" stroke-width="1"/>
<line x1="341.4" y1="201" x2="341.4" y2="203.6" stroke="#1a1a1a" stroke-width="0.8"/>
<line x1="340.1" y1="201.3" x2="342.7" y2="201.3" stroke="#1a1a1a" stroke-width="0.9"/>
<rect x="345.7" y="183.4" width="6.6" height="29.6" fill="#542868" stroke="#46195c" stroke-width="1"/>
<line x1="349" y1="171.3" x2="349" y2="182.9" stroke="#1a1a1a" stroke-width="0.8"/>
<line x1="347.7" y1="171.6" x2="350.3" y2="171.6" stroke="#1a1a1a" stroke-width="0.9"/>
<rect x="353.3" y="177.1" width="7" height="35.9" fill="#6aa543" stroke="#6fc23f" stroke-width="1"/>
<line x1="356.8" y1="168" x2="356.8" y2="176.6" stroke="#1a1a1a" stroke-width="0.8"/>
<line x1="355.5" y1="168.3" x2="358.1" y2="168.3" stroke="#1a1a1a" stroke-width="0.9"/>
<rect x="361.3" y="180.9" width="6.8" height="32.1" fill="#a8002b" stroke="#c6003a" stroke-width="1"/>
<line x1="364.7" y1="173.8" x2="364.7" y2="180.4" stroke="#1a1a1a" stroke-width="0.8"/>
<line x1="363.4" y1="174.1" x2="366" y2="174.1" stroke="#1a1a1a" stroke-width="0.9"/>
<rect x="371.2" y="202.6" width="7" height="10.4" fill="#2e4d86" stroke="#24417a" stroke-width="1"/>
<line x1="374.7" y1="199.7" x2="374.7" y2="202.1" stroke="#1a1a1a" stroke-width="0.8"/>
<line x1="373.4" y1="200" x2="376" y2="200" stroke="#1a1a1a" stroke-width="0.9"/>
<rect x="379.2" y="182.6" width="6.4" height="30.4" fill="#542868" stroke="#46195c" stroke-width="1"/>
<line x1="382.4" y1="175" x2="382.4" y2="182.1" stroke="#1a1a1a" stroke-width="0.8"/>
<line x1="381.1" y1="175.3" x2="383.7" y2="175.3" stroke="#1a1a1a" stroke-width="0.9"/>
<rect x="386.6" y="186.9" width="6.9" height="26.1" fill="#6aa543" stroke="#6fc23f" stroke-width="1"/>
<line x1="390.05" y1="181.7" x2="390.05" y2="186.4" stroke="#1a1a1a" stroke-width="0.8"/>
<line x1="388.75" y1="182" x2="391.35" y2="182" stroke="#1a1a1a" stroke-width="0.9"/>
<rect x="394.5" y="174" width="7.2" height="39" fill="#a8002b" stroke="#c6003a" stroke-width="1"/>
<line x1="398.1" y1="166" x2="398.1" y2="173.5" stroke="#1a1a1a" stroke-width="0.8"/>
<line x1="396.8" y1="166.3" x2="399.4" y2="166.3" stroke="#1a1a1a" stroke-width="0.9"/>
<rect x="404.8" y="209.4" width="6.7" height="3.6" fill="#2e4d86" stroke="#24417a" stroke-width="1"/>
<line x1="408.15" y1="206.9" x2="408.15" y2="208.9" stroke="#1a1a1a" stroke-width="0.8"/>
<line x1="406.85" y1="207.2" x2="409.45" y2="207.2" stroke="#1a1a1a" stroke-width="0.9"/>
<rect x="412.5" y="199.6" width="6.8" height="13.4" fill="#542868" stroke="#46195c" stroke-width="1"/>
<line x1="415.9" y1="193.6" x2="415.9" y2="199.1" stroke="#1a1a1a" stroke-width="0.8"/>
<line x1="414.6" y1="193.9" x2="417.2" y2="193.9" stroke="#1a1a1a" stroke-width="0.9"/>
<rect x="420.3" y="194.5" width="6.6" height="18.5" fill="#6aa543" stroke="#6fc23f" stroke-width="1"/>
<line x1="423.6" y1="190.9" x2="423.6" y2="194" stroke="#1a1a1a" stroke-width="0.8"/>
<line x1="422.3" y1="191.2" x2="424.9" y2="191.2" stroke="#1a1a1a" stroke-width="0.9"/>
<rect x="427.9" y="189.4" width="7.2" height="23.6" fill="#a8002b" stroke="#c6003a" stroke-width="1"/>
<line x1="431.5" y1="181.7" x2="431.5" y2="188.9" stroke="#1a1a1a" stroke-width="0.8"/>
<line x1="430.2" y1="182" x2="432.8" y2="182" stroke="#1a1a1a" stroke-width="0.9"/>
<line x1="335.8" y1="213" x2="438.6" y2="213" stroke="#1a1a1a" stroke-width="1.1"/>
<path d="M338.3 159.7V157.4H363.8V159.7" fill="none" stroke="#262626" stroke-width="0.9"/>
<text x="350.5" y="157.95" font-size="5" text-anchor="middle" font-weight="normal" fill="#111" stroke="#111" stroke-width="0.1">***</text>
<path d="M348.4 164.7V162.4H363.3V164.7" fill="none" stroke="#262626" stroke-width="0.9"/>
<text x="355.7" y="162.95" font-size="5" text-anchor="middle" font-weight="normal" fill="#111" stroke="#111" stroke-width="0.1">**</text>
<path d="M338.3 171.5V169.2H348.8V171.5" fill="none" stroke="#262626" stroke-width="0.9"/>
<text x="343.8" y="169.75" font-size="5" text-anchor="middle" font-weight="normal" fill="#111" stroke="#111" stroke-width="0.1">***</text>
<path d="M357.6 172.8V170.5H367.1V172.8" fill="none" stroke="#262626" stroke-width="0.9"/>
<text x="362.7" y="171.05" font-size="5" text-anchor="middle" font-weight="normal" fill="#111" stroke="#111" stroke-width="0.1">*</text>
<path d="M336.5 180.7V178.4H347V180.7" fill="none" stroke="#262626" stroke-width="0.9"/>
<text x="341.8" y="178.95" font-size="5" text-anchor="middle" font-weight="normal" fill="#111" stroke="#111" stroke-width="0.1">***</text>
<path d="M372.8 162.3V160H397.7V162.3" fill="none" stroke="#262626" stroke-width="0.9"/>
<text x="385" y="160.55" font-size="5" text-anchor="middle" font-weight="normal" fill="#111" stroke="#111" stroke-width="0.1">***</text>
<path d="M372.8 171.1V168.8H391.2V171.1" fill="none" stroke="#262626" stroke-width="0.9"/>
<text x="381.8" y="169.35" font-size="5" text-anchor="middle" font-weight="normal" fill="#111" stroke="#111" stroke-width="0.1">***</text>
<path d="M372.8 177.3V175H385.4V177.3" fill="none" stroke="#262626" stroke-width="0.9"/>
<text x="379.3" y="175.55" font-size="5" text-anchor="middle" font-weight="normal" fill="#111" stroke="#111" stroke-width="0.1">***</text>
<path d="M405.5 168.4V166.1H431.5V168.4" fill="none" stroke="#262626" stroke-width="0.9"/>
<text x="418.6" y="166.65" font-size="5" text-anchor="middle" font-weight="normal" fill="#111" stroke="#111" stroke-width="0.1">***</text>
<path d="M405.5 176.8V174.5H425.3V176.8" fill="none" stroke="#262626" stroke-width="0.9"/>
<text x="415.1" y="175.05" font-size="5" text-anchor="middle" font-weight="normal" fill="#111" stroke="#111" stroke-width="0.1">***</text>
<path d="M423.3 184V181.7H434.5V184" fill="none" stroke="#262626" stroke-width="0.9"/>
<text x="429" y="182.25" font-size="5" text-anchor="middle" font-weight="normal" fill="#111" stroke="#111" stroke-width="0.1">*</text>
<path d="M403.9 190.7V188.4H414.1V190.7" fill="none" stroke="#262626" stroke-width="0.9"/>
<text x="409" y="188.95" font-size="5" text-anchor="middle" font-weight="normal" fill="#111" stroke="#111" stroke-width="0.1">**</text>
<text x="353" y="221.4" font-size="6" text-anchor="middle" font-weight="normal" fill="#111">BM</text>
<text x="386.3" y="221.4" font-size="6" text-anchor="middle" font-weight="normal" fill="#111">PB</text>
<text x="419.8" y="221.4" font-size="6" text-anchor="middle" font-weight="normal" fill="#111">Spleen</text>
<text x="12.8" y="244.7" font-size="11.4" text-anchor="start" font-weight="bold" fill="#000" stroke="#000" stroke-width="0.45">M</text>
<text x="94.05" y="245.4" font-size="7.8" text-anchor="middle" font-weight="normal" fill="#111" stroke="#111" stroke-width="0.12">B220<tspan font-size="6.2" dy="-2.9">+</tspan></text>
<text x="0" y="0" font-size="7.2" text-anchor="middle" fill="#111" stroke="#111" stroke-width="0.15" transform="translate(24.05 284.65) rotate(-90) scale(0.81 1)">Viable cells (%)</text>
<line x1="41.9" y1="249.8" x2="41.9" y2="318.7" stroke="#1a1a1a" stroke-width="1.2"/>
<line x1="39.3" y1="318.2" x2="41.9" y2="318.2" stroke="#1a1a1a" stroke-width="0.9"/>
<text x="36.3" y="320.4" font-size="6.1" text-anchor="end" font-weight="normal" fill="#111" stroke="#111" stroke-width="0.08">0</text>
<line x1="39.3" y1="307.2" x2="41.9" y2="307.2" stroke="#1a1a1a" stroke-width="0.9"/>
<text x="36.3" y="309.4" font-size="6.1" text-anchor="end" font-weight="normal" fill="#111" stroke="#111" stroke-width="0.08">10</text>
<line x1="39.3" y1="296.2" x2="41.9" y2="296.2" stroke="#1a1a1a" stroke-width="0.9"/>
<text x="36.3" y="298.4" font-size="6.1" text-anchor="end" font-weight="normal" fill="#111" stroke="#111" stroke-width="0.08">20</text>
<line x1="39.3" y1="285.3" x2="41.9" y2="285.3" stroke="#1a1a1a" stroke-width="0.9"/>
<text x="36.3" y="287.5" font-size="6.1" text-anchor="end" font-weight="normal" fill="#111" stroke="#111" stroke-width="0.08">30</text>
<line x1="39.3" y1="274.4" x2="41.9" y2="274.4" stroke="#1a1a1a" stroke-width="0.9"/>
<text x="36.3" y="276.6" font-size="6.1" text-anchor="end" font-weight="normal" fill="#111" stroke="#111" stroke-width="0.08">40</text>
<line x1="39.3" y1="263.4" x2="41.9" y2="263.4" stroke="#1a1a1a" stroke-width="0.9"/>
<text x="36.3" y="265.6" font-size="6.1" text-anchor="end" font-weight="normal" fill="#111" stroke="#111" stroke-width="0.08">50</text>
<line x1="39.3" y1="252.4" x2="41.9" y2="252.4" stroke="#1a1a1a" stroke-width="0.9"/>
<text x="36.3" y="254.6" font-size="6.1" text-anchor="end" font-weight="normal" fill="#111" stroke="#111" stroke-width="0.08">60</text>
<rect x="43.7" y="279.5" width="6.7" height="38.7" fill="#2e4d86" stroke="#24417a" stroke-width="1"/>
<line x1="47.05" y1="276.5" x2="47.05" y2="279" stroke="#1a1a1a" stroke-width="0.8"/>
<line x1="45.75" y1="276.8" x2="48.35" y2="276.8" stroke="#1a1a1a" stroke-width="0.9"/>
<rect x="51.4" y="294.3" width="6.9" height="23.9" fill="#542868" stroke="#46195c" stroke-width="1"/>
<line x1="54.85" y1="290.1" x2="54.85" y2="293.8" stroke="#1a1a1a" stroke-width="0.8"/>
<line x1="53.55" y1="290.4" x2="56.15" y2="290.4" stroke="#1a1a1a" stroke-width="0.9"/>
<rect x="59.3" y="300.8" width="6.7" height="17.4" fill="#6aa543" stroke="#6fc23f" stroke-width="1"/>
<line x1="62.65" y1="298.2" x2="62.65" y2="300.3" stroke="#1a1a1a" stroke-width="0.8"/>
<line x1="61.35" y1="298.5" x2="63.95" y2="298.5" stroke="#1a1a1a" stroke-width="0.9"/>
<rect x="67" y="299" width="7" height="19.2" fill="#a8002b" stroke="#c6003a" stroke-width="1"/>
<line x1="70.5" y1="296.1" x2="70.5" y2="298.5" stroke="#1a1a1a" stroke-width="0.8"/>
<line x1="69.2" y1="296.4" x2="71.8" y2="296.4" stroke="#1a1a1a" stroke-width="0.9"/>
<rect x="77.6" y="272.8" width="6.4" height="45.4" fill="#2e4d86" stroke="#24417a" stroke-width="1"/>
<line x1="80.8" y1="269.9" x2="80.8" y2="272.3" stroke="#1a1a1a" stroke-width="0.8"/>
<line x1="79.5" y1="270.2" x2="82.1" y2="270.2" stroke="#1a1a1a" stroke-width="0.9"/>
<rect x="85" y="293.3" width="6.6" height="24.9" fill="#542868" stroke="#46195c" stroke-width="1"/>
<line x1="88.3" y1="290.5" x2="88.3" y2="292.8" stroke="#1a1a1a" stroke-width="0.8"/>
<line x1="87" y1="290.8" x2="89.6" y2="290.8" stroke="#1a1a1a" stroke-width="0.9"/>
<rect x="92.6" y="293.4" width="7" height="24.8" fill="#6aa543" stroke="#6fc23f" stroke-width="1"/>
<line x1="96.1" y1="290.9" x2="96.1" y2="292.9" stroke="#1a1a1a" stroke-width="0.8"/>
<line x1="94.8" y1="291.2" x2="97.4" y2="291.2" stroke="#1a1a1a" stroke-width="0.9"/>
<rect x="100.6" y="310.9" width="6.7" height="7.3" fill="#a8002b" stroke="#c6003a" stroke-width="1"/>
<line x1="103.95" y1="308.6" x2="103.95" y2="310.4" stroke="#1a1a1a" stroke-width="0.8"/>
<line x1="102.65" y1="308.9" x2="105.25" y2="308.9" stroke="#1a1a1a" stroke-width="0.9"/>
<rect x="110.9" y="269" width="6.6" height="49.2" fill="#2e4d86" stroke="#24417a" stroke-width="1"/>
<line x1="114.2" y1="264.4" x2="114.2" y2="268.5" stroke="#1a1a1a" stroke-width="0.8"/>
<line x1="112.9" y1="264.7" x2="115.5" y2="264.7" stroke="#1a1a1a" stroke-width="0.9"/>
<rect x="118.5" y="289.9" width="6.8" height="28.3" fill="#542868" stroke="#46195c" stroke-width="1"/>
<line x1="121.9" y1="283.3" x2="121.9" y2="289.4" stroke="#1a1a1a" stroke-width="0.8"/>
<line x1="120.6" y1="283.6" x2="123.2" y2="283.6" stroke="#1a1a1a" stroke-width="0.9"/>
<rect x="126.3" y="296.5" width="6.7" height="21.7" fill="#6aa543" stroke="#6fc23f" stroke-width="1"/>
<line x1="129.65" y1="293.3" x2="129.65" y2="296" stroke="#1a1a1a" stroke-width="0.8"/>
<line x1="128.35" y1="293.6" x2="130.95" y2="293.6" stroke="#1a1a1a" stroke-width="0.9"/>
<rect x="134" y="300.8" width="7.1" height="17.4" fill="#a8002b" stroke="#c6003a" stroke-width="1"/>
<line x1="137.55" y1="296.4" x2="137.55" y2="300.3" stroke="#1a1a1a" stroke-width="0.8"/>
<line x1="136.25" y1="296.7" x2="138.85" y2="296.7" stroke="#1a1a1a" stroke-width="0.9"/>
<line x1="41.4" y1="318.2" x2="146.4" y2="318.2" stroke="#1a1a1a" stroke-width="1.1"/>
<path d="M47.4 266.3V264H67.6V266.3" fill="none" stroke="#262626" stroke-width="0.9"/>
<text x="57.5" y="264.55" font-size="5" text-anchor="middle" font-weight="normal" fill="#111" stroke="#111" stroke-width="0.1">***</text>
<path d="M47.4 271.9V269.6H61.9V271.9" fill="none" stroke="#262626" stroke-width="0.9"/>
<text x="54.3" y="270.15" font-size="5" text-anchor="middle" font-weight="normal" fill="#111" stroke="#111" stroke-width="0.1">***</text>
<path d="M47.4 277.9V275.6H56.7V277.9" fill="none" stroke="#262626" stroke-width="0.9"/>
<text x="52.7" y="276.15" font-size="5" text-anchor="middle" font-weight="normal" fill="#111" stroke="#111" stroke-width="0.1">***</text>
<path d="M81.4 263.3V261H105.5V263.3" fill="none" stroke="#262626" stroke-width="0.9"/>
<text x="93.4" y="261.55" font-size="5" text-anchor="middle" font-weight="normal" fill="#111" stroke="#111" stroke-width="0.1">***</text>
<path d="M89 271V268.7H105.5V271" fill="none" stroke="#262626" stroke-width="0.9"/>
<text x="97" y="269.25" font-size="5" text-anchor="middle" font-weight="normal" fill="#111" stroke="#111" stroke-width="0.1">***</text>
<path d="M82 279.8V277.5H89.4V279.8" fill="none" stroke="#262626" stroke-width="0.9"/>
<text x="85.8" y="278.05" font-size="5" text-anchor="middle" font-weight="normal" fill="#111" stroke="#111" stroke-width="0.1">**</text>
<path d="M96.6 283.7V281.4H106.5V283.7" fill="none" stroke="#262626" stroke-width="0.9"/>
<text x="101.4" y="281.95" font-size="5" text-anchor="middle" font-weight="normal" fill="#111" stroke="#111" stroke-width="0.1">***</text>
<path d="M82.4 288.6V286.3H97V288.6" fill="none" stroke="#262626" stroke-width="0.9"/>
<text x="89.7" y="286.85" font-size="5" text-anchor="middle" font-weight="normal" fill="#111" stroke="#111" stroke-width="0.1">***</text>
<path d="M114.9 260.8V258.5H140.5V260.8" fill="none" stroke="#262626" stroke-width="0.9"/>
<text x="127.4" y="259.05" font-size="5" text-anchor="middle" font-weight="normal" fill="#111" stroke="#111" stroke-width="0.1">***</text>
<path d="M114.2 267.6V265.3H124.1V267.6" fill="none" stroke="#262626" stroke-width="0.9"/>
<text x="119.3" y="265.85" font-size="5" text-anchor="middle" font-weight="normal" fill="#111" stroke="#111" stroke-width="0.1">**</text>
<path d="M114.9 279V276.7H130V279" fill="none" stroke="#262626" stroke-width="0.9"/>
<text x="121.9" y="277.25" font-size="5" text-anchor="middle" font-weight="normal" fill="#111" stroke="#111" stroke-width="0.1">***</text>
<path d="M124.1 287.7V285.4H136.1V287.7" fill="none" stroke="#262626" stroke-width="0.9"/>
<text x="130" y="285.95" font-size="5" text-anchor="middle" font-weight="normal" fill="#111" stroke="#111" stroke-width="0.1">***</text>
<text x="58.3" y="326.3" font-size="6" text-anchor="middle" font-weight="normal" fill="#111">BM</text>
<text x="91.4" y="326.3" font-size="6" text-anchor="middle" font-weight="normal" fill="#111">PB</text>
<text x="125.6" y="326.3" font-size="6" text-anchor="middle" font-weight="normal" fill="#111">Spleen</text>
<text x="158.6" y="244.7" font-size="11.4" text-anchor="start" font-weight="bold" fill="#000" stroke="#000" stroke-width="0.45">N</text>
<text x="239.05" y="245.4" font-size="7.8" text-anchor="middle" font-weight="normal" fill="#111" stroke="#111" stroke-width="0.12">CD3e<tspan font-size="6.2" dy="-2.9">+</tspan></text>
<text x="0" y="0" font-size="7.2" text-anchor="middle" fill="#111" stroke="#111" stroke-width="0.15" transform="translate(169.15 284.65) rotate(-90) scale(0.81 1)">Viable cells (%)</text>
<line x1="186.7" y1="251.1" x2="186.7" y2="318.7" stroke="#1a1a1a" stroke-width="1.2"/>
<line x1="184.1" y1="318.2" x2="186.7" y2="318.2" stroke="#1a1a1a" stroke-width="0.9"/>
<text x="181.1" y="320.4" font-size="6.1" text-anchor="end" font-weight="normal" fill="#111" stroke="#111" stroke-width="0.08">0</text>
<line x1="184.1" y1="310.1" x2="186.7" y2="310.1" stroke="#1a1a1a" stroke-width="0.9"/>
<text x="181.1" y="312.3" font-size="6.1" text-anchor="end" font-weight="normal" fill="#111" stroke="#111" stroke-width="0.08">5</text>
<line x1="184.1" y1="302" x2="186.7" y2="302" stroke="#1a1a1a" stroke-width="0.9"/>
<text x="181.1" y="304.2" font-size="6.1" text-anchor="end" font-weight="normal" fill="#111" stroke="#111" stroke-width="0.08">10</text>
<line x1="184.1" y1="293.9" x2="186.7" y2="293.9" stroke="#1a1a1a" stroke-width="0.9"/>
<text x="181.1" y="296.1" font-size="6.1" text-anchor="end" font-weight="normal" fill="#111" stroke="#111" stroke-width="0.08">15</text>
<line x1="184.1" y1="285.8" x2="186.7" y2="285.8" stroke="#1a1a1a" stroke-width="0.9"/>
<text x="181.1" y="288" font-size="6.1" text-anchor="end" font-weight="normal" fill="#111" stroke="#111" stroke-width="0.08">20</text>
<line x1="184.1" y1="277.8" x2="186.7" y2="277.8" stroke="#1a1a1a" stroke-width="0.9"/>
<text x="181.1" y="280" font-size="6.1" text-anchor="end" font-weight="normal" fill="#111" stroke="#111" stroke-width="0.08">25</text>
<line x1="184.1" y1="269.7" x2="186.7" y2="269.7" stroke="#1a1a1a" stroke-width="0.9"/>
<text x="181.1" y="271.9" font-size="6.1" text-anchor="end" font-weight="normal" fill="#111" stroke="#111" stroke-width="0.08">30</text>
<line x1="184.1" y1="261.6" x2="186.7" y2="261.6" stroke="#1a1a1a" stroke-width="0.9"/>
<text x="181.1" y="263.8" font-size="6.1" text-anchor="end" font-weight="normal" fill="#111" stroke="#111" stroke-width="0.08">35</text>
<line x1="184.1" y1="253.6" x2="186.7" y2="253.6" stroke="#1a1a1a" stroke-width="0.9"/>
<text x="181.1" y="255.8" font-size="6.1" text-anchor="end" font-weight="normal" fill="#111" stroke="#111" stroke-width="0.08">40</text>
<rect x="188.7" y="312.5" width="6.6" height="5.7" fill="#2e4d86" stroke="#24417a" stroke-width="1"/>
<line x1="192" y1="310.9" x2="192" y2="312" stroke="#1a1a1a" stroke-width="0.8"/>
<line x1="190.7" y1="311.2" x2="193.3" y2="311.2" stroke="#1a1a1a" stroke-width="0.9"/>
<rect x="196.3" y="312.1" width="6.9" height="6.1" fill="#542868" stroke="#46195c" stroke-width="1"/>
<line x1="199.75" y1="309.6" x2="199.75" y2="311.6" stroke="#1a1a1a" stroke-width="0.8"/>
<line x1="198.45" y1="309.9" x2="201.05" y2="309.9" stroke="#1a1a1a" stroke-width="0.9"/>
<rect x="204.2" y="311.7" width="6.9" height="6.5" fill="#6aa543" stroke="#6fc23f" stroke-width="1"/>
<line x1="207.65" y1="310" x2="207.65" y2="311.2" stroke="#1a1a1a" stroke-width="0.8"/>
<line x1="206.35" y1="310.3" x2="208.95" y2="310.3" stroke="#1a1a1a" stroke-width="0.9"/>
<rect x="212.1" y="314.2" width="6.6" height="4" fill="#a8002b" stroke="#c6003a" stroke-width="1"/>
<line x1="215.4" y1="312" x2="215.4" y2="313.7" stroke="#1a1a1a" stroke-width="0.8"/>
<line x1="214.1" y1="312.3" x2="216.7" y2="312.3" stroke="#1a1a1a" stroke-width="0.9"/>
<rect x="222.2" y="270.7" width="6.5" height="47.5" fill="#2e4d86" stroke="#24417a" stroke-width="1"/>
<line x1="225.45" y1="265.8" x2="225.45" y2="270.2" stroke="#1a1a1a" stroke-width="0.8"/>
<line x1="224.15" y1="266.1" x2="226.75" y2="266.1" stroke="#1a1a1a" stroke-width="0.9"/>
<rect x="229.7" y="298.5" width="6.7" height="19.7" fill="#542868" stroke="#46195c" stroke-width="1"/>
<line x1="233.05" y1="295.3" x2="233.05" y2="298" stroke="#1a1a1a" stroke-width="0.8"/>
<line x1="231.75" y1="295.6" x2="234.35" y2="295.6" stroke="#1a1a1a" stroke-width="0.9"/>
<rect x="237.4" y="290.8" width="7.1" height="27.4" fill="#6aa543" stroke="#6fc23f" stroke-width="1"/>
<line x1="240.95" y1="287.7" x2="240.95" y2="290.3" stroke="#1a1a1a" stroke-width="0.8"/>
<line x1="239.65" y1="288" x2="242.25" y2="288" stroke="#1a1a1a" stroke-width="0.9"/>
<rect x="245.5" y="312.7" width="6.9" height="5.5" fill="#a8002b" stroke="#c6003a" stroke-width="1"/>
<line x1="248.95" y1="310.6" x2="248.95" y2="312.2" stroke="#1a1a1a" stroke-width="0.8"/>
<line x1="247.65" y1="310.9" x2="250.25" y2="310.9" stroke="#1a1a1a" stroke-width="0.9"/>
<rect x="255.6" y="284.4" width="6.6" height="33.8" fill="#2e4d86" stroke="#24417a" stroke-width="1"/>
<line x1="258.9" y1="279.2" x2="258.9" y2="283.9" stroke="#1a1a1a" stroke-width="0.8"/>
<line x1="257.6" y1="279.5" x2="260.2" y2="279.5" stroke="#1a1a1a" stroke-width="0.9"/>
<rect x="263.2" y="302.3" width="6.6" height="15.9" fill="#542868" stroke="#46195c" stroke-width="1"/>
<line x1="266.5" y1="300.3" x2="266.5" y2="301.8" stroke="#1a1a1a" stroke-width="0.8"/>
<line x1="265.2" y1="300.6" x2="267.8" y2="300.6" stroke="#1a1a1a" stroke-width="0.9"/>
<rect x="270.8" y="298.5" width="7.2" height="19.7" fill="#6aa543" stroke="#6fc23f" stroke-width="1"/>
<line x1="274.4" y1="295.2" x2="274.4" y2="298" stroke="#1a1a1a" stroke-width="0.8"/>
<line x1="273.1" y1="295.5" x2="275.7" y2="295.5" stroke="#1a1a1a" stroke-width="0.9"/>
<rect x="279" y="303.8" width="6.6" height="14.4" fill="#a8002b" stroke="#c6003a" stroke-width="1"/>
<line x1="282.3" y1="299.9" x2="282.3" y2="303.3" stroke="#1a1a1a" stroke-width="0.8"/>
<line x1="281" y1="300.2" x2="283.6" y2="300.2" stroke="#1a1a1a" stroke-width="0.9"/>
<line x1="186.2" y1="318.2" x2="291.4" y2="318.2" stroke="#1a1a1a" stroke-width="1.1"/>
<path d="M223.8 257.6V255.3H249.6V257.6" fill="none" stroke="#262626" stroke-width="0.9"/>
<text x="236.4" y="255.85" font-size="5" text-anchor="middle" font-weight="normal" fill="#111" stroke="#111" stroke-width="0.1">***</text>
<path d="M223.3 263.7V261.4H236.9V263.7" fill="none" stroke="#262626" stroke-width="0.9"/>
<text x="229.9" y="261.95" font-size="5" text-anchor="middle" font-weight="normal" fill="#111" stroke="#111" stroke-width="0.1">***</text>
<path d="M227 270.3V268H241.9V270.3" fill="none" stroke="#262626" stroke-width="0.9"/>
<text x="234.7" y="268.55" font-size="5" text-anchor="middle" font-weight="normal" fill="#111" stroke="#111" stroke-width="0.1">***</text>
<path d="M232.5 280.6V278.3H251.8V280.6" fill="none" stroke="#262626" stroke-width="0.9"/>
<text x="241.7" y="278.85" font-size="5" text-anchor="middle" font-weight="normal" fill="#111" stroke="#111" stroke-width="0.1">***</text>
<path d="M243.2 289.6V287.3H253.4V289.6" fill="none" stroke="#262626" stroke-width="0.9"/>
<text x="248.3" y="287.85" font-size="5" text-anchor="middle" font-weight="normal" fill="#111" stroke="#111" stroke-width="0.1">***</text>
<path d="M260.8 270.9V268.6H283.8V270.9" fill="none" stroke="#262626" stroke-width="0.9"/>
<text x="272.4" y="269.15" font-size="5" text-anchor="middle" font-weight="normal" fill="#111" stroke="#111" stroke-width="0.1">***</text>
<path d="M260.8 276.9V274.6H274.7V276.9" fill="none" stroke="#262626" stroke-width="0.9"/>
<text x="267.5" y="275.15" font-size="5" text-anchor="middle" font-weight="normal" fill="#111" stroke="#111" stroke-width="0.1">**</text>
<path d="M261.4 281.9V279.6H268.6V281.9" fill="none" stroke="#262626" stroke-width="0.9"/>
<text x="265.2" y="280.15" font-size="5" text-anchor="middle" font-weight="normal" fill="#111" stroke="#111" stroke-width="0.1">***</text>
<path d="M276.2 296.9V294.6H286.7V296.9" fill="none" stroke="#262626" stroke-width="0.9"/>
<text x="281.4" y="295.15" font-size="5" text-anchor="middle" font-weight="normal" fill="#111" stroke="#111" stroke-width="0.1">*</text>
<text x="203.8" y="326.3" font-size="6" text-anchor="middle" font-weight="normal" fill="#111">BM</text>
<text x="237.3" y="326.3" font-size="6" text-anchor="middle" font-weight="normal" fill="#111">PB</text>
<text x="270.6" y="326.3" font-size="6" text-anchor="middle" font-weight="normal" fill="#111">Spleen</text>
<text x="302.4" y="244.9" font-size="11.4" text-anchor="start" font-weight="bold" fill="#000" stroke="#000" stroke-width="0.45">O</text>
<text x="388.1" y="244.9" font-size="7.8" text-anchor="middle" font-weight="normal" fill="#111" stroke="#111" stroke-width="0.12">Ter119<tspan font-size="6.2" dy="-2.9">+</tspan><tspan dy="2.9">CD71</tspan><tspan font-size="6.2" dy="-2.9">high</tspan></text>
<text x="0" y="0" font-size="7.2" text-anchor="middle" fill="#111" stroke="#111" stroke-width="0.15" transform="translate(317.85 285.5) rotate(-90) scale(0.8 1)">Viable cells (%)</text>
<line x1="336.1" y1="253" x2="336.1" y2="318.7" stroke="#1a1a1a" stroke-width="1.2"/>
<line x1="333.5" y1="318.3" x2="336.1" y2="318.3" stroke="#1a1a1a" stroke-width="0.9"/>
<text x="330.5" y="320.5" font-size="6.1" text-anchor="end" font-weight="normal" fill="#111" stroke="#111" stroke-width="0.08">0</text>
<line x1="333.5" y1="309.3" x2="336.1" y2="309.3" stroke="#1a1a1a" stroke-width="0.9"/>
<text x="330.5" y="311.5" font-size="6.1" text-anchor="end" font-weight="normal" fill="#111" stroke="#111" stroke-width="0.08">2</text>
<line x1="333.5" y1="300.3" x2="336.1" y2="300.3" stroke="#1a1a1a" stroke-width="0.9"/>
<text x="330.5" y="302.5" font-size="6.1" text-anchor="end" font-weight="normal" fill="#111" stroke="#111" stroke-width="0.08">4</text>
<line x1="333.5" y1="291.3" x2="336.1" y2="291.3" stroke="#1a1a1a" stroke-width="0.9"/>
<text x="330.5" y="293.5" font-size="6.1" text-anchor="end" font-weight="normal" fill="#111" stroke="#111" stroke-width="0.08">6</text>
<line x1="333.5" y1="282.3" x2="336.1" y2="282.3" stroke="#1a1a1a" stroke-width="0.9"/>
<text x="330.5" y="284.5" font-size="6.1" text-anchor="end" font-weight="normal" fill="#111" stroke="#111" stroke-width="0.08">8</text>
<line x1="333.5" y1="273.3" x2="336.1" y2="273.3" stroke="#1a1a1a" stroke-width="0.9"/>
<text x="330.5" y="275.5" font-size="6.1" text-anchor="end" font-weight="normal" fill="#111" stroke="#111" stroke-width="0.08">10</text>
<line x1="333.5" y1="264.3" x2="336.1" y2="264.3" stroke="#1a1a1a" stroke-width="0.9"/>
<text x="330.5" y="266.5" font-size="6.1" text-anchor="end" font-weight="normal" fill="#111" stroke="#111" stroke-width="0.08">12</text>
<line x1="333.5" y1="255.3" x2="336.1" y2="255.3" stroke="#1a1a1a" stroke-width="0.9"/>
<text x="330.5" y="257.5" font-size="6.1" text-anchor="end" font-weight="normal" fill="#111" stroke="#111" stroke-width="0.08">14</text>
<rect x="351.6" y="272.9" width="17.7" height="45.3" fill="#2e4d86" stroke="#24417a" stroke-width="1"/>
<line x1="360.45" y1="265.4" x2="360.45" y2="272.4" stroke="#1a1a1a" stroke-width="0.8"/>
<line x1="359.15" y1="265.7" x2="361.75" y2="265.7" stroke="#1a1a1a" stroke-width="0.9"/>
<rect x="370.3" y="290" width="18.5" height="28.2" fill="#542868" stroke="#46195c" stroke-width="1"/>
<line x1="379.55" y1="282.9" x2="379.55" y2="289.5" stroke="#1a1a1a" stroke-width="0.8"/>
<line x1="378.25" y1="283.2" x2="380.85" y2="283.2" stroke="#1a1a1a" stroke-width="0.9"/>
<rect x="389.8" y="274.2" width="18.3" height="44" fill="#6aa543" stroke="#6fc23f" stroke-width="1"/>
<line x1="398.95" y1="268" x2="398.95" y2="273.7" stroke="#1a1a1a" stroke-width="0.8"/>
<line x1="397.65" y1="268.3" x2="400.25" y2="268.3" stroke="#1a1a1a" stroke-width="0.9"/>
<rect x="409.1" y="300.5" width="18.3" height="17.7" fill="#a8002b" stroke="#c6003a" stroke-width="1"/>
<line x1="418.25" y1="294.3" x2="418.25" y2="300" stroke="#1a1a1a" stroke-width="0.8"/>
<line x1="416.95" y1="294.6" x2="419.55" y2="294.6" stroke="#1a1a1a" stroke-width="0.9"/>
<line x1="335.6" y1="318.2" x2="441" y2="318.2" stroke="#1a1a1a" stroke-width="1.1"/>
<path d="M362.5 263.7V261.4H424.4V263.7" fill="none" stroke="#262626" stroke-width="0.9"/>
<text x="393.7" y="261.95" font-size="5" text-anchor="middle" font-weight="normal" fill="#111" stroke="#111" stroke-width="0.1">***</text>
<path d="M406.4 272.5V270.2H422.9V272.5" fill="none" stroke="#262626" stroke-width="0.9"/>
<text x="414.7" y="270.75" font-size="5" text-anchor="middle" font-weight="normal" fill="#111" stroke="#111" stroke-width="0.1">***</text>
<text x="389.5" y="326" font-size="6" text-anchor="middle" font-weight="normal" fill="#111">BM</text>
<rect x="443.4" y="145.4" width="4" height="4" fill="#2e4d86"/>
<text x="450.4" y="149.2" font-size="5" text-anchor="start" font-weight="normal" fill="#111" stroke="#111" stroke-width="0.06">WT (n=15)</text>
<rect x="443.4" y="152.33" width="4" height="4" fill="#542868"/>
<text x="450.4" y="156.13" font-size="5" text-anchor="start" font-weight="normal" fill="#111" stroke="#111" stroke-width="0.06">Pten+/<tspan font-size="4.4" fill="#444">&#916;</tspan>;Nf1LOH (n=12)</text>
<rect x="443.4" y="159.26" width="4" height="4" fill="#6aa543"/>
<text x="450.4" y="163.06" font-size="5" text-anchor="start" font-weight="normal" fill="#111" stroke="#111" stroke-width="0.06">Pten<tspan font-size="4.4" fill="#444">&#916;</tspan>/<tspan font-size="4.4" fill="#444">&#916;</tspan>;Nf1+/<tspan font-size="4.4" fill="#444">&#916;</tspan> (n=21)</text>
<rect x="443.4" y="166.19" width="4" height="4" fill="#a8002b"/>
<text x="450.4" y="169.99" font-size="5" text-anchor="start" font-weight="normal" fill="#111" stroke="#111" stroke-width="0.06">Pten<tspan font-size="4.4" fill="#444">&#916;</tspan>/<tspan font-size="4.4" fill="#444">&#916;</tspan>;Nf1LOH (n=13)</text>
<rect x="0.5" y="0.5" width="519" height="341" fill="none" stroke="#111" stroke-width="1"/>
<line x1="519.3" y1="0" x2="519.3" y2="342" stroke="#111" stroke-width="1.4"/>
<line x1="0" y1="341.3" x2="520" y2="341.3" stroke="#111" stroke-width="1.4"/>
<line x1="1.5" y1="0" x2="1.5" y2="342" stroke="#111" stroke-width="1" opacity="0.3"/>
<line x1="0" y1="1.5" x2="520" y2="1.5" stroke="#111" stroke-width="1" opacity="0.12"/>
</svg>
</body></html>
